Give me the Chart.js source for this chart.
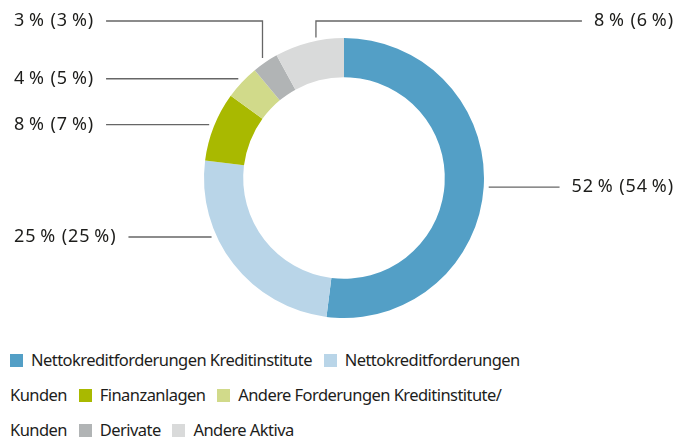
<!DOCTYPE html>
<html>
<head>
<meta charset="utf-8">
<script src="https://cdn.jsdelivr.net/npm/chart.js"></script>
<style>
  body { margin: 0; background: #fff; font-family: "Noto Sans", sans-serif; color: #1d1d1b; }
  #wrap { position: relative; width: 688px; height: 330px; }
  #legend { position: absolute; left: 10px; top: 342px; width: 530px; font-size: 16.5px; letter-spacing: -0.55px; line-height: 35px; }
  #legend .box { display: inline-block; width: 13px; height: 13px; margin-right: 8px; vertical-align: -1px; }
  #legend .gap { margin-right: 8px; }
</style>
</head>
<body>
<div id="wrap"><canvas id="assets"></canvas></div>
<div id="legend"></div>

<script>
// Anteile in % (Vorjahr in Klammern)
const labels = ['Nettokreditforderungen Kreditinstitute', 'Nettokreditforderungen Kunden', 'Finanzanlagen', 'Andere Forderungen Kreditinstitute/ Kunden', 'Derivate', 'Andere Aktiva'];
const shares = [52, 25, 8, 4, 3, 8];
const prevShares = [54, 25, 7, 5, 3, 6];
const colors = ['#539fc6', '#b9d5e8', '#a9b900', '#d1da8a', '#b1b4b5', '#d9dada'];

// wo die Beschriftungen hinkommen (side, feste Höhe oder Knick nach oben)
const placement = [
    { side: 'right' },
    { side: 'left', y: 237 },
    { side: 'left' },
    { side: 'left' },
    { side: 'left', elbowY: 21 },
    { side: 'right', elbowY: 21, shift: 8 }
];

const pctText = i => `${shares[i]}\u2009% (${prevShares[i]}\u2009%)`;

const leaderLabels = {
    id: 'leaderLabels',
    afterDraw(chart) {
        const ctx = chart.ctx;
        const arcs = chart.getDatasetMeta(0).data;
        ctx.save();
        ctx.font = '18px "Noto Sans"';
        ctx.letterSpacing = '0.9px';
        ctx.textBaseline = 'middle';
        ctx.strokeStyle = '#666';
        ctx.lineWidth = 1.3;
        ctx.fillStyle = '#1d1d1b';
        arcs.forEach((arc, i) => {
            const p = placement[i];
            const mid = (arc.startAngle + arc.endAngle) / 2;
            const R = arc.outerRadius + 5;
            const text = pctText(i);
            const w = ctx.measureText(text).width;
            const left = p.side === 'left';
            const textX = left ? 14 : 674;
            const lineEnd = left ? textX + w + 12 : textX - w - 12;
            let ax = arc.x + R * Math.cos(mid) + (p.shift || 0);
            let ay = arc.y + R * Math.sin(mid);
            let ty = ay;
            ctx.beginPath();
            if (p.elbowY !== undefined) {
                ty = p.elbowY;
                ctx.moveTo(ax, ay);
                ctx.lineTo(ax, ty);
                ctx.lineTo(lineEnd, ty);
            } else {
                if (p.y !== undefined) {
                    ty = p.y;
                    const dy = ty - arc.y;
                    ax = arc.x + (left ? -1 : 1) * Math.sqrt(R * R - dy * dy);
                }
                ctx.moveTo(ax, ty);
                ctx.lineTo(lineEnd, ty);
            }
            ctx.stroke();
            ctx.textAlign = left ? 'left' : 'right';
            ctx.fillText(text, textX, ty);
        });
        ctx.restore();
    }
};

new Chart(document.getElementById('assets'), {
    type: 'doughnut',
    data: {
        labels: labels,
        datasets: [{
            data: shares,
            backgroundColor: colors,
            borderWidth: 0
        }]
    },
    options: {
        responsive: true,
        maintainAspectRatio: false,
        animation: false,
        cutout: '72%',
        layout: { padding: { top: 38, bottom: 12 } },
        plugins: {
            legend: { display: false },
            tooltip: { enabled: false }
        }
    },
    plugins: [leaderLabels]
});

// Legende als fließender Text
document.getElementById('legend').innerHTML = labels.map((l, i) =>
    `<span class="box" style="background:${colors[i]}"></span><span class="gap">${l}</span>`
).join(' ');
</script>
</body>
</html>
